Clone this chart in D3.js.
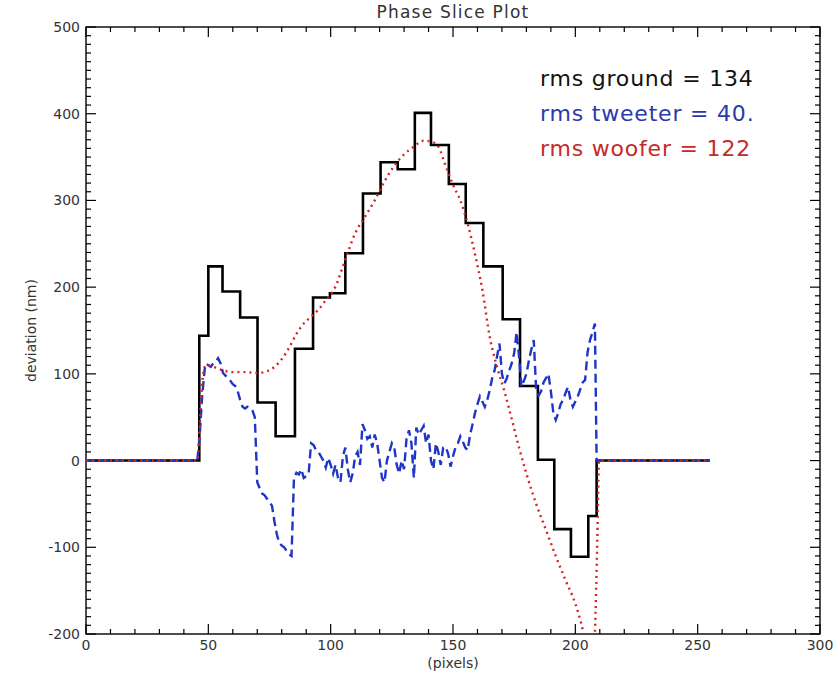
<!DOCTYPE html>
<html>
<head>
<meta charset="utf-8">
<script src="https://cdn.jsdelivr.net/npm/d3@7"></script>
<style>
  html, body { margin: 0; padding: 0; background: #fff; }
  svg { display: block; font-family: "DejaVu Sans", sans-serif; }
</style>
</head>
<body>
<svg id="chart" width="838" height="677"></svg>
<script>
// ---------- data ----------
const groundX = [0, 46.3, 50, 55.8, 63, 70.1, 77.5, 85.4, 92.8, 99.7, 106, 113.2, 120.4, 127.4, 134.4, 141, 148.3, 155.2, 162.4, 170.3, 177.4, 184.7, 191.4, 198.2, 205.3, 208.7, 255];
const groundY = [0, 144, 224, 195, 165, 67, 28, 129, 188, 193, 239, 308, 344, 336, 401, 364, 319, 274, 224, 163, 86, 1, -79, -111, -64, 0, 0];

const wooferX = [0, 45.5, 46.5, 47.5, 49, 52, 56, 60, 65, 70, 74, 77, 80, 83, 86, 89, 92, 95, 98, 102, 106, 110, 114, 118, 122, 126, 130, 134, 138, 141, 144, 147, 150, 153, 156, 159, 162, 165, 168, 171, 174, 177, 180, 184, 188, 192, 196, 200, 203, 205, 207, 208, 209, 209.7, 255];
const wooferY = [0, 0, 40, 90, 110, 108, 104, 102, 102, 101, 103, 108, 117, 130, 146, 158, 166, 174, 185, 201, 232, 262, 281, 300, 322, 340, 353, 362, 369, 368, 362, 340, 318, 300, 273, 238, 197, 143, 108, 80, 48, 15, -15, -50, -80, -110, -138, -165, -195, -225, -260, -200, -90, 0, 0];

const tweeterX = [0, 45.5, 46.5, 47.5, 48.5, 49, 50, 51, 52, 53, 54, 55, 56, 57, 58, 59, 60, 61, 62, 63, 64, 65, 66, 67, 68, 69, 70, 71, 72, 73, 74, 75, 76, 77, 78, 79, 80, 81, 82, 83, 84, 85, 86, 87, 88, 89, 90, 91, 92, 93, 94, 95, 96, 97, 98, 99, 100, 101, 102, 103, 104, 105, 106, 107, 108, 109, 110, 111, 112, 113, 114, 115, 116, 117, 118, 119, 120, 121, 122, 123, 124, 125, 126, 127, 128, 129, 130, 131, 132, 133, 134, 135, 136, 137, 138, 139, 140, 141, 142, 143, 144, 145, 146, 147, 148, 149, 150, 151, 152, 153, 154, 155, 156, 157, 158, 159, 160, 161, 162, 163, 164, 165, 166, 167, 168, 169, 170, 171, 172, 173, 174, 175, 176, 177, 178, 179, 180, 181, 182, 183, 184, 185, 186, 187, 188, 189, 190, 191, 192, 193, 194, 195, 196, 197, 198, 199, 200, 201, 202, 203, 204, 205, 206, 207, 208, 208.7, 255];
const tweeterY = [0, 0, 30, 75, 105, 112, 110, 108, 112, 114, 118, 112, 101, 98, 95, 92, 88, 86, 80, 70, 62, 60, 62, 60, 58, 50, -25, -32, -38, -40, -44, -48, -52, -70, -85, -95, -98, -100, -104, -108, -110, -20, -14, -16, -10, -20, -18, -15, 20, 18, 12, 10, 5, 0, -8, 3, -5, -15, -5, -20, -25, 5, 15, -10, -25, -15, 5, 10, -5, 42, 35, 25, 28, 15, 30, 20, 0, -20, -25, 0, 10, 20, 15, -5, -15, 0, -10, 25, 35, 20, -20, 38, 30, 35, 40, 20, 30, 0, -10, 20, 10, -5, 15, 16, 8, -7, 5, 15, 20, 28, 22, 15, 12, 30, 42, 55, 65, 74, 68, 62, 70, 81, 95, 104, 120, 135, 100, 89, 95, 104, 112, 124, 148, 120, 85, 92, 100, 115, 128, 139, 81, 75, 80, 90, 95, 100, 80, 55, 47, 55, 65, 70, 78, 85, 70, 62, 68, 74, 82, 90, 93, 125, 139, 148, 158, 0, 0];

const xTicks = [0, 50, 100, 150, 200, 250, 300];
const yTicks = [-200, -100, 0, 100, 200, 300, 400, 500];
const legendLines = ["rms ground = 134", "rms tweeter = 40.", "rms woofer = 122"];

// ---------- layout ----------
const svg = d3.select("#chart");
const L = 86, R = 820, T = 27, B = 634;
const x = d3.scaleLinear().domain([0, 300]).range([L, R]);
const y = d3.scaleLinear().domain([-200, 500]).range([B, T]);

svg.append("defs").append("clipPath").attr("id", "plotclip")
  .append("rect").attr("x", L).attr("y", T).attr("width", R - L).attr("height", B - T);

// ---------- axes (IDL style, inward ticks on all sides) ----------
const xMinor = d3.range(0, 301, 10);
const yMinor = d3.range(-200, 501, 10);
const axG = svg.append("g").attr("stroke", "#000").attr("stroke-width", 1.2);

function tickLen(v, step) { return (v % step === 0) ? 10 : 5; }
xMinor.forEach(v => {
  const len = tickLen(v, 50);
  axG.append("line").attr("x1", x(v)).attr("x2", x(v)).attr("y1", B).attr("y2", B - len);
  axG.append("line").attr("x1", x(v)).attr("x2", x(v)).attr("y1", T).attr("y2", T + len);
});
yMinor.forEach(v => {
  const len = tickLen(v, 100);
  axG.append("line").attr("y1", y(v)).attr("y2", y(v)).attr("x1", L).attr("x2", L + len);
  axG.append("line").attr("y1", y(v)).attr("y2", y(v)).attr("x1", R).attr("x2", R - len);
});
svg.append("rect").attr("x", L).attr("y", T).attr("width", R - L).attr("height", B - T)
  .attr("fill", "none").attr("stroke", "#000").attr("stroke-width", 1.4);

// tick labels
svg.append("g").selectAll("text").data(xTicks).join("text")
  .attr("x", d => x(d)).attr("y", 650).attr("text-anchor", "middle")
  .attr("font-size", 14).attr("fill", "#333").text(d => d);
svg.append("g").selectAll("text").data(yTicks).join("text")
  .attr("x", 80).attr("y", d => y(d) + 5).attr("text-anchor", "end")
  .attr("font-size", 14).attr("fill", "#333").text(d => d);

// axis titles
svg.append("text").attr("x", (L + R) / 2).attr("y", 668).attr("text-anchor", "middle")
  .attr("font-size", 14).attr("fill", "#333").text("(pixels)");
svg.append("text").attr("transform", `translate(36,${(T + B) / 2}) rotate(-90)`)
  .attr("text-anchor", "middle").attr("font-size", 14).attr("fill", "#333").text("deviation (nm)");
svg.append("text").attr("x", (L + R) / 2).attr("y", 18).attr("text-anchor", "middle")
  .attr("font-size", 17).attr("letter-spacing", 1.2).attr("fill", "#333").text("Phase Slice Plot");

// ---------- series ----------
const plot = svg.append("g").attr("clip-path", "url(#plotclip)");

const groundPts = groundX.map((v, i) => [v, groundY[i]]);
const tweeterPts = tweeterX.map((v, i) => [v, tweeterY[i]]);
const wooferPts = wooferX.map((v, i) => [v, wooferY[i]]);

plot.append("path").datum(groundPts)
  .attr("d", d3.line().x(d => x(d[0])).y(d => y(d[1])).curve(d3.curveStepAfter))
  .attr("fill", "none").attr("stroke", "#000").attr("stroke-width", 2.6);

plot.append("path").datum(tweeterPts)
  .attr("d", d3.line().x(d => x(d[0])).y(d => y(d[1])))
  .attr("fill", "none").attr("stroke", "#1f35c8").attr("stroke-width", 2.4)
  .attr("stroke-dasharray", "9,5");

plot.append("path").datum(wooferPts)
  .attr("d", d3.line().x(d => x(d[0])).y(d => y(d[1])).curve(d3.curveMonotoneX))
  .attr("fill", "none").attr("stroke", "#d42424").attr("stroke-width", 2.4)
  .attr("stroke-dasharray", "2,4");

// ---------- legend ----------
const legendColors = ["#111", "#2b3aa8", "#c42a2a"];
svg.append("g").selectAll("text").data(legendLines).join("text")
  .attr("x", 540).attr("y", (d, i) => 86 + i * 35)
  .attr("font-size", 22).attr("letter-spacing", 0.8)
  .attr("fill", (d, i) => legendColors[i]).text(d => d);
</script>
</body>
</html>
